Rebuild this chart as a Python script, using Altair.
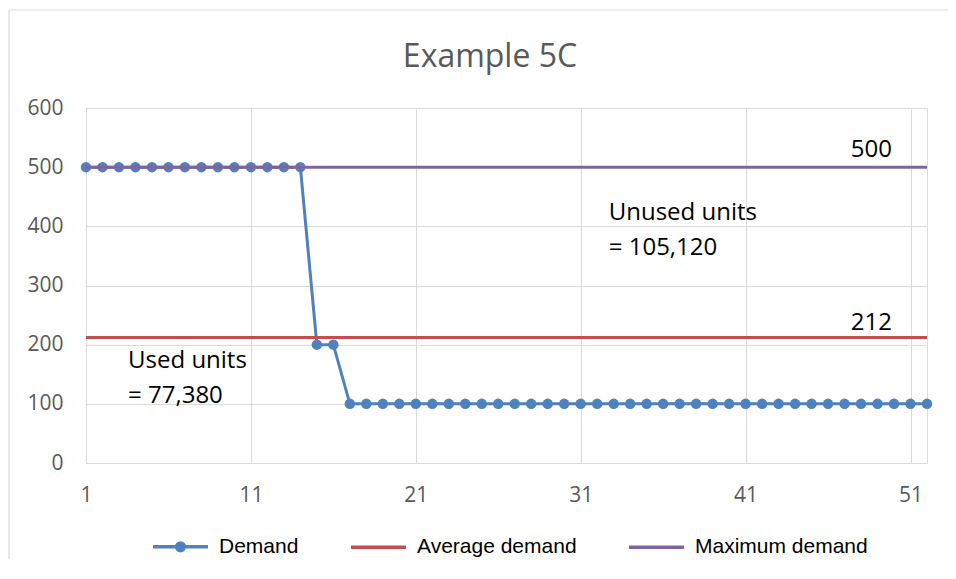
import altair as alt
import pandas as pd

# ---- data ----
weeks = list(range(1, 53))
demand = [500, 500, 500, 500, 500, 500, 500, 500, 500, 500, 500, 500, 500, 500,
          200, 200,
          100, 100, 100, 100, 100, 100, 100, 100, 100, 100, 100, 100, 100, 100,
          100, 100, 100, 100, 100, 100, 100, 100, 100, 100, 100, 100, 100, 100,
          100, 100, 100, 100, 100, 100, 100, 100]
average_demand = 212
maximum_demand = 500
series_names = ["Demand", "Average demand", "Maximum demand"]
series_colors = ["#4f81bd", "#c0504d", "#8064a2"]
x_tick_values = [1, 11, 21, 31, 41, 51]
y_tick_values = [0, 100, 200, 300, 400, 500, 600]
title_text = "Example 5C"
unused_text = ["Unused units", "= 105,120"]
used_text = ["Used units", "= 77,380"]

demand_df = pd.DataFrame({"week": weeks, "demand": demand})
avg_df = pd.DataFrame({"start": [weeks[0]], "end": [weeks[-1]], "value": [average_demand]})
max_df = pd.DataFrame({"start": [weeks[0]], "end": [weeks[-1]], "value": [maximum_demand]})
legend_df = pd.DataFrame({"series": series_names})
one_row = pd.DataFrame({"k": [0]})

GRID = "#d9d9d9"
LABEL = "#595959"
FONT = "Open Sans"

x_scale = alt.Scale(domain=[weeks[0], weeks[-1]], nice=False, zero=False)
y_scale = alt.Scale(domain=[0, 600], nice=False)

x_axis = alt.Axis(values=x_tick_values, grid=True, gridColor=GRID, gridWidth=1,
                  domain=True, domainColor=GRID, domainWidth=1, ticks=False,
                  labelFont=FONT, labelFontSize=21, labelColor=LABEL,
                  labelPadding=21, title=None, labelFlush=False)
y_axis = alt.Axis(values=y_tick_values, grid=True, gridColor=GRID, gridWidth=1,
                  domain=False, ticks=False, labelFont=FONT, labelFontSize=21,
                  labelColor=LABEL, labelPadding=23, title=None)

# chart-area frame (top and left edges visible in the reference)
frame_top = alt.Chart(one_row).mark_rule(color=GRID, strokeWidth=1.2).encode(
    x=alt.value(-77), x2=alt.value(900), y=alt.value(-98)
)
frame_left = alt.Chart(one_row).mark_rule(color=GRID, strokeWidth=1.2).encode(
    x=alt.value(-77), y=alt.value(-98), y2=alt.value(480)
)

title = alt.Chart(one_row).mark_text(
    text=title_text, font=FONT, fontSize=32, color=LABEL, align="center",
    baseline="alphabetic"
).encode(x=alt.value(404), y=alt.value(-41))

demand_line = alt.Chart(demand_df).mark_line(color=series_colors[0], strokeWidth=3).encode(
    x=alt.X("week:Q", scale=x_scale, axis=x_axis),
    y=alt.Y("demand:Q", scale=y_scale, axis=y_axis),
)
demand_pts = alt.Chart(demand_df).mark_circle(color=series_colors[0], size=110, opacity=1).encode(
    x=alt.X("week:Q", scale=x_scale),
    y=alt.Y("demand:Q", scale=y_scale),
)
avg_rule = alt.Chart(avg_df).mark_rule(color=series_colors[1], strokeWidth=3).encode(
    x=alt.X("start:Q", scale=x_scale), x2="end:Q", y=alt.Y("value:Q", scale=y_scale)
)
max_rule = alt.Chart(max_df).mark_rule(color=series_colors[2], strokeWidth=3).encode(
    x=alt.X("start:Q", scale=x_scale), x2="end:Q", y=alt.Y("value:Q", scale=y_scale)
)

line_path = "M-1,0L1,0"
dot_path = ("M-1,0L1,0"
            "M0.14,0A0.14,0.14,0,1,1,-0.14,0A0.14,0.14,0,1,1,0.14,0"
            "M0.06,0A0.06,0.06,0,1,1,-0.06,0A0.06,0.06,0,1,1,0.06,0")

leg = alt.Legend(title=None, orient="none", legendX=65, legendY=409, direction="horizontal",
                 symbolSize=3025, symbolStrokeWidth=3.5, symbolOpacity=1,
                 labelFont="Liberation Sans", labelFontSize=21, labelColor="#000000",
                 labelOffset=9, columnPadding=45, labelLimit=400)
legend_layer = alt.Chart(legend_df).mark_point(filled=False, opacity=0, strokeWidth=3.5).encode(
    color=alt.Color("series:N", scale=alt.Scale(domain=series_names, range=series_colors),
                    legend=leg, sort=series_names),
    shape=alt.Shape("series:N", scale=alt.Scale(domain=series_names,
                                                 range=[dot_path, line_path, line_path]),
                    legend=leg, sort=series_names),
)

def label(text, x, y, align):
    return alt.Chart(one_row).mark_text(
        text=text, font=FONT, fontSize=24, color="#000000", align=align,
        baseline="alphabetic", lineHeight=35
    ).encode(x=alt.datum(x), y=alt.datum(y))

lbl_max = label(str(maximum_demand), 49.88, 518, "right")
lbl_avg = label(str(average_demand), 49.88, 225, "right")
lbl_unused = label(unused_text, 32.7, 411, "left")
lbl_used = label(used_text, 3.55, 160.5, "left")

chart = alt.layer(
    frame_top, frame_left, title, demand_line, demand_pts, avg_rule, max_rule, legend_layer,
    lbl_max, lbl_avg, lbl_unused, lbl_used
).properties(
    width=841, height=355,
    autosize=alt.AutoSizeParams(type="none"),
    padding={"left": 78, "top": 100, "right": 21, "bottom": 96},
).configure_view(stroke=None).configure(background="white")

chart.save("out.html", embed_options={"renderer": "svg", "actions": False})
